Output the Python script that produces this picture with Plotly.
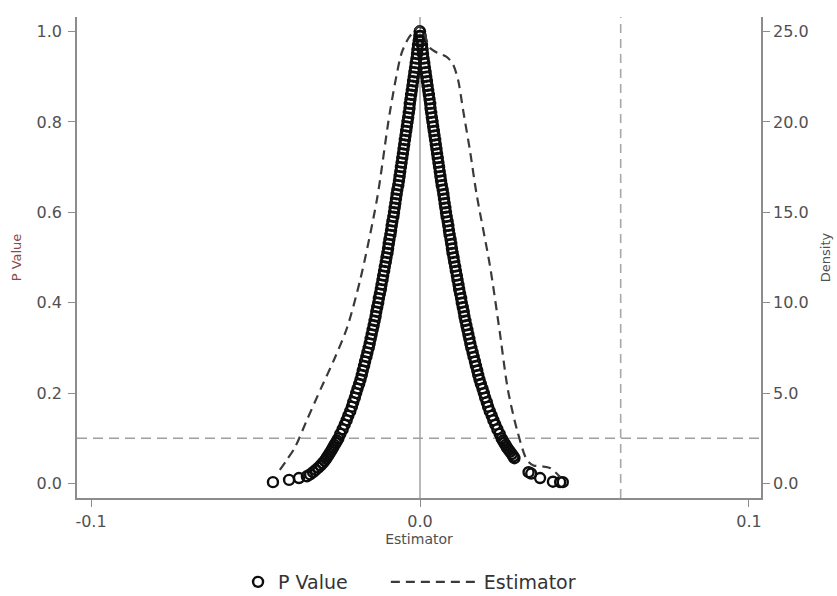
import plotly.graph_objects as go

# ---------------- data ----------------
# P-value points, right branch (estimator > 0)
right_est = [
    0.0000, 0.0002, 0.0004, 0.0006, 0.0008, 0.0009, 0.0011, 0.0013, 0.0015, 0.0017,
    0.0019, 0.0021, 0.0023, 0.0025, 0.0027, 0.0029, 0.0031, 0.0032, 0.0034, 0.0036,
    0.0038, 0.0040, 0.0042, 0.0044, 0.0046, 0.0048, 0.0050, 0.0052, 0.0054, 0.0056,
    0.0058, 0.0060, 0.0062, 0.0064, 0.0066, 0.0069, 0.0071, 0.0073, 0.0075, 0.0077,
    0.0079, 0.0081, 0.0084, 0.0086, 0.0088, 0.0090, 0.0093, 0.0095, 0.0097, 0.0099,
    0.0102, 0.0104, 0.0107, 0.0109, 0.0112, 0.0114, 0.0117, 0.0119, 0.0122, 0.0125,
    0.0127, 0.0130, 0.0133, 0.0135, 0.0138, 0.0141, 0.0144, 0.0147, 0.0150, 0.0153,
    0.0156, 0.0160, 0.0163, 0.0167, 0.0170, 0.0174, 0.0177, 0.0181, 0.0185, 0.0190,
    0.0194, 0.0198, 0.0203, 0.0207, 0.0212, 0.0218, 0.0223, 0.0229, 0.0235, 0.0242,
    0.0248, 0.0252, 0.0256, 0.0260, 0.0264, 0.0269, 0.0274, 0.0279, 0.0284, 0.0287,
    0.0330, 0.0338, 0.0365, 0.0404, 0.0426, 0.0434,
]
right_p = [
    1.00, 0.99, 0.98, 0.97, 0.96, 0.95, 0.94, 0.93, 0.92, 0.91,
    0.90, 0.89, 0.88, 0.87, 0.86, 0.85, 0.84, 0.83, 0.82, 0.81,
    0.80, 0.79, 0.78, 0.77, 0.76, 0.75, 0.74, 0.73, 0.72, 0.71,
    0.70, 0.69, 0.68, 0.67, 0.66, 0.65, 0.64, 0.63, 0.62, 0.61,
    0.60, 0.59, 0.58, 0.57, 0.56, 0.55, 0.54, 0.53, 0.52, 0.51,
    0.50, 0.49, 0.48, 0.47, 0.46, 0.45, 0.44, 0.43, 0.42, 0.41,
    0.40, 0.39, 0.38, 0.37, 0.36, 0.35, 0.34, 0.33, 0.32, 0.31,
    0.30, 0.29, 0.28, 0.27, 0.26, 0.25, 0.24, 0.23, 0.22, 0.21,
    0.20, 0.19, 0.18, 0.17, 0.16, 0.15, 0.14, 0.13, 0.12, 0.11,
    0.100, 0.095, 0.090, 0.085, 0.080, 0.075, 0.070, 0.065, 0.060, 0.056,
    0.025, 0.022, 0.012, 0.004, 0.003, 0.003,
]

# P-value points, left branch (estimator < 0)
left_est = [
    -0.0001, -0.0002, -0.0004, -0.0006, -0.0008, -0.0009, -0.0011, -0.0013, -0.0015, -0.0017,
    -0.0019, -0.0021, -0.0023, -0.0025, -0.0027, -0.0029, -0.0031, -0.0032, -0.0034, -0.0036,
    -0.0038, -0.0040, -0.0042, -0.0044, -0.0046, -0.0048, -0.0050, -0.0052, -0.0054, -0.0056,
    -0.0058, -0.0060, -0.0062, -0.0064, -0.0066, -0.0069, -0.0071, -0.0073, -0.0075, -0.0077,
    -0.0079, -0.0081, -0.0084, -0.0086, -0.0088, -0.0090, -0.0093, -0.0095, -0.0097, -0.0099,
    -0.0102, -0.0104, -0.0107, -0.0109, -0.0112, -0.0114, -0.0117, -0.0119, -0.0122, -0.0125,
    -0.0127, -0.0130, -0.0133, -0.0135, -0.0138, -0.0141, -0.0144, -0.0147, -0.0150, -0.0153,
    -0.0156, -0.0160, -0.0163, -0.0167, -0.0170, -0.0174, -0.0177, -0.0181, -0.0185, -0.0190,
    -0.0194, -0.0198, -0.0203, -0.0207, -0.0212, -0.0218, -0.0223, -0.0229, -0.0235, -0.0242,
    -0.0248, -0.0252, -0.0256, -0.0260, -0.0264, -0.0268, -0.0272, -0.0276, -0.0281, -0.0285,
    -0.0290, -0.0296, -0.0302, -0.0309, -0.0317, -0.0325, -0.0334, -0.0344,
    -0.0368, -0.0398, -0.0447,
]
left_p = [
    1.00, 0.99, 0.98, 0.97, 0.96, 0.95, 0.94, 0.93, 0.92, 0.91,
    0.90, 0.89, 0.88, 0.87, 0.86, 0.85, 0.84, 0.83, 0.82, 0.81,
    0.80, 0.79, 0.78, 0.77, 0.76, 0.75, 0.74, 0.73, 0.72, 0.71,
    0.70, 0.69, 0.68, 0.67, 0.66, 0.65, 0.64, 0.63, 0.62, 0.61,
    0.60, 0.59, 0.58, 0.57, 0.56, 0.55, 0.54, 0.53, 0.52, 0.51,
    0.50, 0.49, 0.48, 0.47, 0.46, 0.45, 0.44, 0.43, 0.42, 0.41,
    0.40, 0.39, 0.38, 0.37, 0.36, 0.35, 0.34, 0.33, 0.32, 0.31,
    0.30, 0.29, 0.28, 0.27, 0.26, 0.25, 0.24, 0.23, 0.22, 0.21,
    0.20, 0.19, 0.18, 0.17, 0.16, 0.15, 0.14, 0.13, 0.12, 0.11,
    0.100, 0.095, 0.090, 0.085, 0.080, 0.075, 0.070, 0.065, 0.060, 0.055,
    0.050, 0.045, 0.040, 0.035, 0.030, 0.025, 0.020, 0.016,
    0.012, 0.008, 0.003,
]

# Density of the estimator (dashed curve, right axis)
dens_est = [
    -0.0426, -0.0405, -0.0380, -0.0344, -0.0300, -0.0260, -0.0222, -0.0182, -0.0131,
    -0.0091, -0.0056, -0.0036, -0.0015, -0.0004, 0.0010, 0.0030, 0.0055, 0.0081,
    0.0100, 0.0116, 0.0131, 0.0152, 0.0172, 0.0213, 0.0243, 0.0267, 0.0295, 0.0325,
    0.0345, 0.0370, 0.0395, 0.0426,
]
dens_val = [
    0.75, 1.3, 2.0, 3.5, 5.3, 6.9, 8.6, 11.25, 15.7,
    20.6, 23.8, 24.6, 25.1, 25.3, 25.0, 24.1, 23.8, 23.6,
    23.2, 22.3, 20.65, 18.4, 16.0, 12.0, 8.3, 5.2, 2.96, 1.3,
    1.0, 0.95, 0.86, 0.36,
]

x_ticks = [-0.1, 0.0, 0.1]
x_ticktext = ["-0.1", "0.0", "0.1"]
y_ticks = [0.0, 0.2, 0.4, 0.6, 0.8, 1.0]
y2_ticks = [0.0, 5.0, 10.0, 15.0, 20.0, 25.0]

p_threshold = 0.1       # horizontal dashed reference
zero_line = 0.0         # vertical solid reference
true_value = 0.061      # vertical dashed reference

# ---------------- figure ----------------
AXIS_GRAY = "#8c8c8c"
FONT = "DejaVu Sans, Liberation Sans, Arial, sans-serif"
TICK_FONT = dict(family=FONT, size=16, color="#505050")

fig = go.Figure()

fig.add_trace(go.Scatter(
    x=left_est + right_est,
    y=left_p + right_p,
    mode="markers",
    name="P Value",
    marker=dict(symbol="circle-open", size=10, color="#0d0d0d", line=dict(width=2.4)),
    legend="legend",
    showlegend=True,
))

fig.add_trace(go.Scatter(
    x=dens_est,
    y=dens_val,
    mode="lines",
    name="Estimator",
    yaxis="y2",
    line=dict(color="#3a3a3a", width=2.2, dash="9px,6px", shape="spline", smoothing=0.8),
    legend="legend2",
    showlegend=True,
))

fig.add_shape(type="line", xref="x", yref="paper", x0=zero_line, x1=zero_line, y0=0, y1=1,
              line=dict(color="#a8a8a8", width=1.6), layer="below")
fig.add_shape(type="line", xref="x", yref="paper", x0=true_value, x1=true_value, y0=0, y1=1,
              line=dict(color="#a8a8a8", width=1.6, dash="9px,6px"), layer="below")
fig.add_shape(type="line", xref="paper", yref="y", x0=0, x1=1, y0=p_threshold, y1=p_threshold,
              line=dict(color="#a0a0a0", width=1.6, dash="10px,6px"), layer="below")

fig.update_layout(
    width=837, height=596,
    margin=dict(l=77, r=76, t=17, b=98, autoexpand=False),
    paper_bgcolor="white", plot_bgcolor="white",
    font=dict(family=FONT, color="#404040"),
    showlegend=True,
    xaxis=dict(
        range=[-0.10426, 0.10365], automargin=False,
        tickvals=x_ticks, ticktext=x_ticktext,
        showgrid=False, zeroline=False,
        showline=True, linecolor=AXIS_GRAY, linewidth=1.6,
        ticks="outside", ticklen=7, tickwidth=1.4, tickcolor=AXIS_GRAY,
        tickfont=TICK_FONT, ticklabelstandoff=1,
        title=dict(text="Estimator", font=dict(size=14, color="#505050"), standoff=2),
    ),
    yaxis=dict(
        range=[-0.0321, 1.0321], automargin=False,
        tickvals=y_ticks, tickformat=".1f",
        showgrid=False, zeroline=False,
        showline=True, linecolor=AXIS_GRAY, linewidth=1.6,
        ticks="outside", ticklen=7, tickwidth=1.4, tickcolor=AXIS_GRAY,
        tickfont=TICK_FONT, ticklabelstandoff=3,
        title=dict(text="P Value", font=dict(size=13, color="#8a4848"), standoff=12),
    ),
    yaxis2=dict(
        range=[-0.8025, 25.8025], automargin=False,
        overlaying="y", side="right",
        tickvals=y2_ticks, tickformat=".1f",
        showgrid=False, zeroline=False,
        showline=True, linecolor=AXIS_GRAY, linewidth=1.6,
        ticks="outside", ticklen=7, tickwidth=1.4, tickcolor=AXIS_GRAY,
        tickfont=TICK_FONT,
        title=dict(text="Density", font=dict(size=13, color="#505050"), standoff=13),
    ),
    legend=dict(
        orientation="h", xref="container", yref="container",
        x=0.2844, y=0.0235, xanchor="left", yanchor="middle",
        font=dict(family=FONT, size=19, color="#333333"), itemwidth=30,
        bgcolor="rgba(0,0,0,0)",
    ),
    legend2=dict(
        orientation="h", xref="container", yref="container",
        x=0.4610, y=0.0235, xanchor="left", yanchor="middle",
        font=dict(family=FONT, size=19, color="#333333"), itemwidth=88,
        bgcolor="rgba(0,0,0,0)",
    ),
)

fig.write_html(
    "out.html",
    config={"displayModeBar": False},
    post_script="document.body.style.margin='0';document.body.style.overflow='hidden';",
)
